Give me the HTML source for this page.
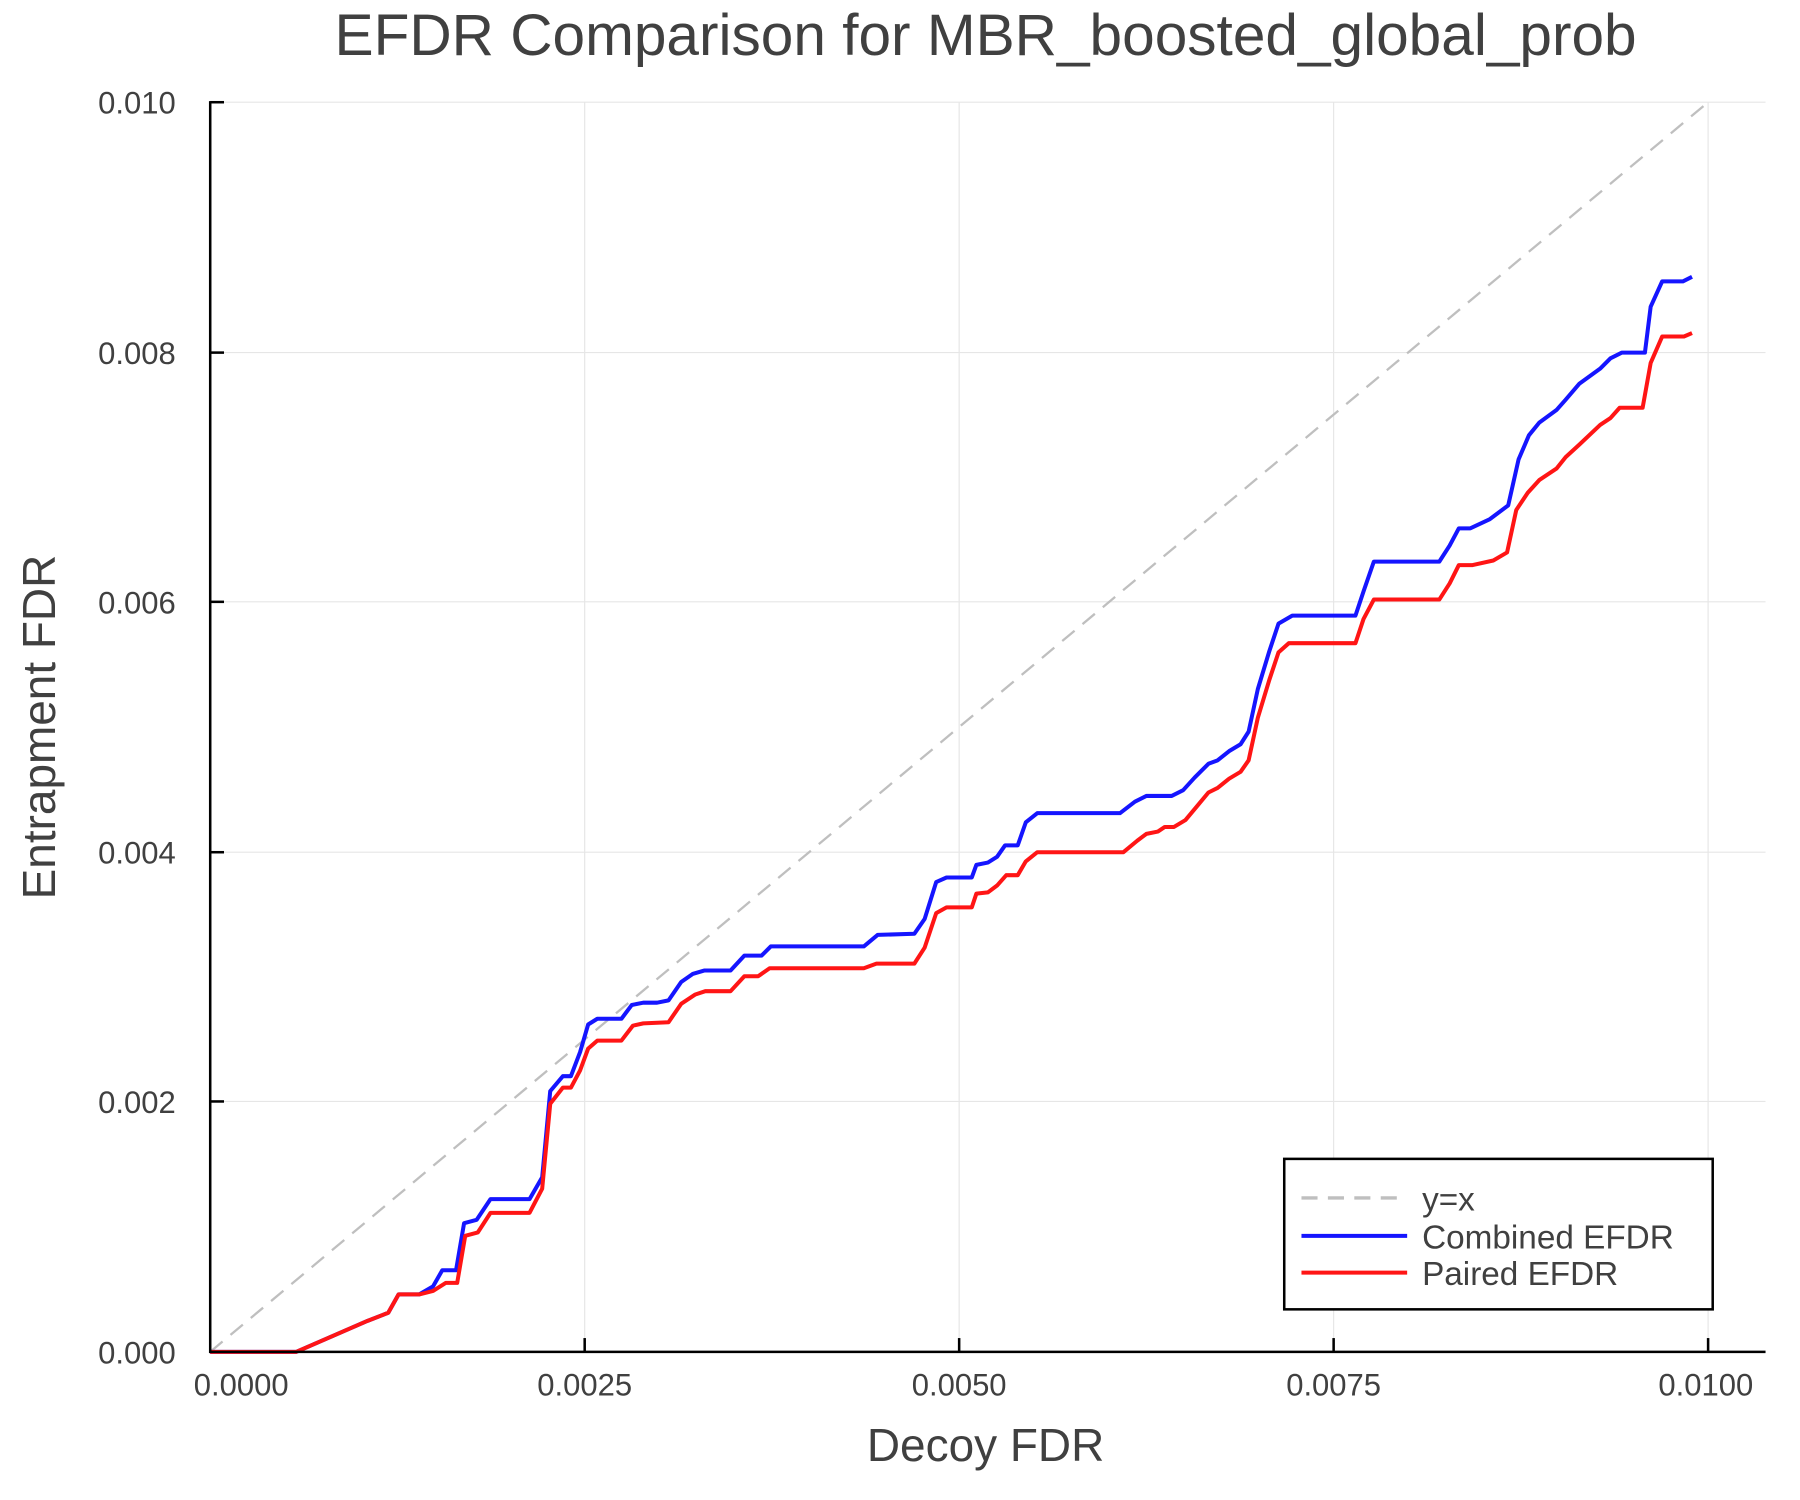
<!DOCTYPE html>
<html><head><meta charset="utf-8"><style>html,body{margin:0;padding:0;background:#fff}svg{display:block}text{font-family:"Liberation Sans",sans-serif;fill:#404040}</style></head>
<body>
<svg width="1800" height="1500" viewBox="0 0 1567 1306" preserveAspectRatio="none" xmlns="http://www.w3.org/2000/svg">
<rect width="1567" height="1306" fill="#fff"/>
<g stroke="#e6e6e6" stroke-width="1">
<line x1="509" y1="89" x2="509" y2="1177"/><line x1="835" y1="89" x2="835" y2="1177"/><line x1="1161" y1="89" x2="1161" y2="1177"/><line x1="1487" y1="89" x2="1487" y2="1177"/>
<line x1="183" y1="89" x2="1537" y2="89"/><line x1="183" y1="307" x2="1537" y2="307"/><line x1="183" y1="524" x2="1537" y2="524"/><line x1="183" y1="742" x2="1537" y2="742"/><line x1="183" y1="959" x2="1537" y2="959"/>
</g>
<line x1="183" y1="1177" x2="1487" y2="89" stroke="#bfbfbf" stroke-width="2" stroke-dasharray="14,9"/>
<polyline fill="none" stroke="#1515ff" stroke-width="3.5" stroke-linejoin="round" points="183,1177 258,1177 320,1150 338,1143 347,1127 365,1127 377,1120 385,1106 397,1106 404,1065 415,1062 427,1044 461,1044 472,1025 479,950 490,937 497,937 505,916 512,892 520,887 541,887 550,875 560,873 572,873 582,871 593,855 603,848 613,845 636,845 648,832 663,832 671,824 752,824 764,814 796,813 805,800 815,768 824,764 846,764 850,753 860,751 868,746 875,736 886,736 893,716 903,708 975,708 988,698 998,693 1020,693 1030,688 1040,677 1052,665 1060,662 1070,654 1080,648 1087,637 1095,600 1105,567 1113,543 1125,536 1180,536 1187,515 1196,489 1253,489 1262,475 1270,460 1280,460 1297,452 1313,440 1322,400 1331,379 1340,368 1355,357 1363,348 1375,334 1393,321 1402,312 1412,307 1432,307 1437,267 1447,245 1465,245 1473,241"/>
<polyline fill="none" stroke="#ff1515" stroke-width="3.5" stroke-linejoin="round" points="183,1177 258,1177 320,1150 338,1143 347,1127 365,1127 377,1124 388,1117 398,1117 405,1076 416,1073 427,1056 461,1056 472,1035 479,961 490,947 497,947 505,932 512,913 520,906 541,906 551,893 560,891 582,890 593,874 605,866 614,863 636,863 648,850 660,850 670,843 752,843 763,839 796,839 805,825 815,795 824,790 846,790 850,778 860,777 868,771 876,762 886,762 893,750 903,742 978,742 990,732 998,726 1008,724 1014,720 1022,720 1032,714 1042,702 1052,690 1060,686 1070,678 1080,672 1087,662 1095,625 1105,592 1113,568 1122,560 1180,560 1187,539 1196,522 1253,522 1262,508 1270,492 1282,492 1300,488 1312,481 1320,444 1330,429 1340,418 1355,408 1363,398 1375,387 1393,370 1402,364 1410,355 1430,355 1437,316 1447,293 1466,293 1473,290"/>
<g stroke="#000" stroke-width="2.2">
<line x1="183" y1="88" x2="183" y2="1178"/><line x1="182" y1="1177" x2="1537" y2="1177"/>
<line x1="183" y1="89" x2="195" y2="89"/><line x1="183" y1="307" x2="195" y2="307"/><line x1="183" y1="524" x2="195" y2="524"/><line x1="183" y1="742" x2="195" y2="742"/><line x1="183" y1="959" x2="195" y2="959"/>
<line x1="509" y1="1177" x2="509" y2="1165"/><line x1="835" y1="1177" x2="835" y2="1165"/><line x1="1161" y1="1177" x2="1161" y2="1165"/><line x1="1487" y1="1177" x2="1487" y2="1165"/>
</g>
<g font-size="27" text-anchor="end">
<text x="153" y="99">0.010</text><text x="153" y="317">0.008</text><text x="153" y="534">0.006</text><text x="153" y="752">0.004</text><text x="153" y="969">0.002</text><text x="153" y="1187">0.000</text>
</g>
<g font-size="27" text-anchor="middle">
<text x="210" y="1215">0.0000</text><text x="509" y="1215">0.0025</text><text x="835" y="1215">0.0050</text><text x="1161" y="1215">0.0075</text><text x="1485" y="1215">0.0100</text>
</g>
<text x="858" y="48" font-size="51" text-anchor="middle">EFDR Comparison for MBR_boosted_global_prob</text>
<text x="858" y="1272" font-size="40" text-anchor="middle">Decoy FDR</text>
<text transform="translate(48,633) rotate(-90)" font-size="40" text-anchor="middle">Entrapment FDR</text>
<rect x="1118" y="1009" width="373" height="131" fill="#fff" stroke="#000" stroke-width="2.2"/>
<line x1="1133" y1="1043" x2="1225" y2="1043" stroke="#bfbfbf" stroke-width="3" stroke-dasharray="14,9"/>
<line x1="1133" y1="1076" x2="1225" y2="1076" stroke="#1515ff" stroke-width="3.5"/>
<line x1="1133" y1="1108" x2="1225" y2="1108" stroke="#ff1515" stroke-width="3.5"/>
<g font-size="29"><text x="1238" y="1054">y=x</text><text x="1238" y="1087">Combined EFDR</text><text x="1238" y="1119">Paired EFDR</text></g>
</svg>
</body></html>
